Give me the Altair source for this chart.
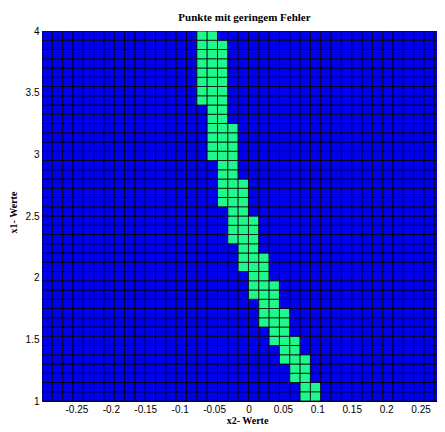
import altair as alt
import pandas as pd

# x2 cell edges (41 edges -> 40 columns), x1 cell edges (41 edges -> 40 rows)
x2_edges = [-0.3, -0.285, -0.27, -0.255, -0.24, -0.225, -0.21, -0.195, -0.18, -0.165,
            -0.15, -0.135, -0.12, -0.105, -0.09, -0.075, -0.06, -0.045, -0.03, -0.015,
            0.0, 0.015, 0.03, 0.045, 0.06, 0.075, 0.09, 0.105, 0.12, 0.135,
            0.15, 0.165, 0.18, 0.195, 0.21, 0.225, 0.24, 0.255, 0.27, 0.285, 0.3]
x1_edges = [1.0, 1.075, 1.15, 1.225, 1.3, 1.375, 1.45, 1.525, 1.6, 1.675,
            1.75, 1.825, 1.9, 1.975, 2.05, 2.125, 2.2, 2.275, 2.35, 2.425,
            2.5, 2.575, 2.65, 2.725, 2.8, 2.875, 2.95, 3.025, 3.1, 3.175,
            3.25, 3.325, 3.4, 3.475, 3.55, 3.625, 3.7, 3.775, 3.85, 3.925, 4.0]

# low-error band per row (bottom to top): left edge of first and last green cell
green_from = [0.075, 0.075, 0.06, 0.06, 0.045, 0.045, 0.03, 0.03, 0.015, 0.015,
              0.015, 0.0, 0.0, 0.0, -0.015, -0.015, -0.015, -0.03, -0.03, -0.03,
              -0.03, -0.045, -0.045, -0.045, -0.045, -0.045, -0.06, -0.06, -0.06, -0.06,
              -0.06, -0.06, -0.075, -0.075, -0.075, -0.075, -0.075, -0.075, -0.075, -0.075]
green_to = [0.09, 0.09, 0.075, 0.075, 0.075, 0.06, 0.06, 0.045, 0.045, 0.045,
            0.03, 0.03, 0.03, 0.015, 0.015, 0.015, 0.0, 0.0, 0.0, 0.0,
            -0.015, -0.015, -0.015, -0.015, -0.03, -0.03, -0.03, -0.03, -0.03, -0.03,
            -0.045, -0.045, -0.045, -0.045, -0.045, -0.045, -0.045, -0.045, -0.045, -0.06]

x_ticks = [-0.25, -0.2, -0.15, -0.1, -0.05, 0, 0.05, 0.1, 0.15, 0.2, 0.25]
y_ticks = [1, 1.5, 2, 2.5, 3, 3.5, 4]

rows = []
for j in range(len(x1_edges) - 1):
    for i in range(len(x2_edges) - 1):
        lo = x2_edges[i]
        good = green_from[j] - 1e-9 <= lo <= green_to[j] + 1e-9
        rows.append({"x2a": lo, "x2b": x2_edges[i + 1],
                     "x1a": x1_edges[j], "x1b": x1_edges[j + 1],
                     "fehler": "gering" if good else "hoch"})
df = pd.DataFrame(rows)

chart = alt.Chart(df).mark_rect(
    stroke="black", strokeWidth=1, strokeOpacity=0.75, clip=True
).encode(
    x=alt.X("x2a:Q",
            scale=alt.Scale(domain=[-0.3, 0.2739], nice=False, zero=False),
            axis=alt.Axis(values=x_ticks, labelExpr="toString(datum.value)",
                          title="x2- Werte", titleX=205, titleY=19,
                          titleBaseline="middle", labelPadding=3)),
    x2="x2b:Q",
    y=alt.Y("x1a:Q",
            scale=alt.Scale(domain=[1, 4], nice=False, zero=False),
            axis=alt.Axis(values=y_ticks, labelExpr="toString(datum.value)",
                          title="x1- Werte", titleX=-29, titleY=181,
                          titleAngle=270, titleAlign="center",
                          titleBaseline="middle")),
    y2="x1b:Q",
    fill=alt.Fill("fehler:N",
                  scale=alt.Scale(domain=["hoch", "gering"],
                                  range=["#0000EC", "#1EF88C"]),
                  legend=None),
).properties(
    width=395, height=370,
    title=alt.TitleParams("Punkte mit geringem Fehler", font="Liberation Serif",
                          fontSize=11, fontWeight="bold", color="black",
                          anchor="middle", dx=5, offset=3),
    padding={"left": 34, "top": 23, "right": 0, "bottom": 23},
    autosize=alt.AutoSizeParams(type="none"),
).configure_view(
    stroke="black", strokeWidth=1
).configure_axis(
    ticks=False, tickSize=0, domain=False, grid=False,
    labelFont="Liberation Sans", labelFontSize=10, labelColor="black",
    titleFont="Liberation Serif", titleFontSize=10, titleFontWeight="bold",
    titleColor="black",
).configure_axisY(
    labelPadding=3
)

chart.save("out.html", embed_options={"renderer": "svg", "actions": False})
